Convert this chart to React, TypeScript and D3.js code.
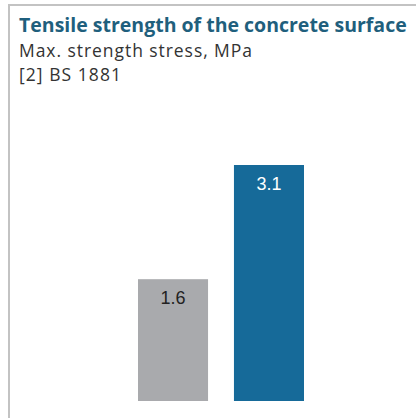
import React from 'react';
import * as d3 from 'd3';

const categories = ['Untreated', 'Treated'];
const values = [1.6, 3.1];
const barColors = ['#a9aaad', '#166a99'];
const labelColors = ['#222222', '#ffffff'];

const title = 'Tensile strength of the concrete surface';
const subtitle = 'Max. strength stress, MPa';
const source = '[2] BS 1881';

const width = 416;
const height = 418;

export default function App() {
    const x = d3.scaleBand<string>()
        .domain(categories)
        .range([138, 304])
        .paddingInner(0.27)
        .paddingOuter(0);

    const y = d3.scaleLinear()
        .domain([0, 3.1])
        .range([401, 165]);

    return (
        <svg
            width={width}
            height={height}
            viewBox={`0 0 ${width} ${height}`}
            style={{ position: 'absolute', left: 0, top: 0, background: '#fff' }}
        >
            {/* frame */}
            <line x1={9} x2={width} y1={5} y2={5} stroke="#c3c3c3" strokeWidth={2} />
            <line x1={9} x2={9} y1={4} y2={height} stroke="#c3c3c3" strokeWidth={2} />

            <text x={19} y={32} fontFamily="'Open Sans', sans-serif" fontWeight={700} fontSize={19.5} fill="#1f5f7d">
                {title}
            </text>
            <text x={19} y={57} fontFamily="'Open Sans', sans-serif" fontSize={17.5} fill="#333"
                textLength={233} lengthAdjust="spacing">
                {subtitle}
            </text>
            <text x={19} y={81} fontFamily="'Open Sans', sans-serif" fontSize={17.5} fill="#333"
                textLength={102} lengthAdjust="spacing">
                {source}
            </text>

            {categories.map((c, i) => (
                <g key={c}>
                    <rect
                        x={x(c)}
                        y={y(values[i])}
                        width={x.bandwidth()}
                        height={y(0) - y(values[i])}
                        fill={barColors[i]}
                    />
                    <text
                        x={(x(c) ?? 0) + x.bandwidth() / 2}
                        y={y(values[i]) + 25}
                        textAnchor="middle"
                        fontFamily="'Liberation Sans', Arial, sans-serif"
                        fontSize={18}
                        fill={labelColors[i]}
                    >
                        {d3.format('.1f')(values[i])}
                    </text>
                </g>
            ))}
        </svg>
    );
}
